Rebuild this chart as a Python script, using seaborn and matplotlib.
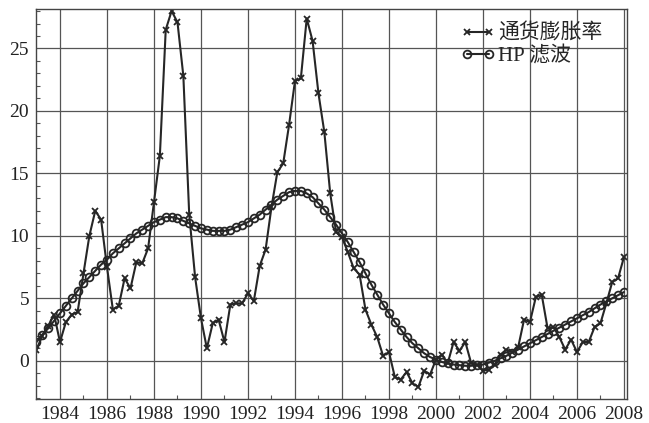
import numpy as np
import pandas as pd
import matplotlib
matplotlib.use("Agg")
import matplotlib.pyplot as plt
from matplotlib.ticker import MultipleLocator, FixedLocator
from matplotlib.lines import Line2D
import seaborn as sns

# ---- data (quarterly, 1983Q1 - 2008Q1) ----
periods = pd.period_range("1983Q1", "2008Q1", freq="Q")
year_pos = periods.year + (periods.quarter - 1) / 4.0

inflation = [
    0.9, 2.0, 2.8, 3.7,      # 1983
    1.5, 3.1, 3.7, 3.9,      # 1984
    7.0, 10.0, 12.0, 11.3,   # 1985
    7.5, 4.1, 4.4, 6.6,      # 1986
    5.8, 7.9, 7.8, 9.0,      # 1987
    12.7, 16.4, 26.5, 28.0,  # 1988
    27.1, 22.8, 11.7, 6.7,   # 1989
    3.4, 1.0, 3.0, 3.3,      # 1990
    1.5, 4.5, 4.6, 4.6,      # 1991
    5.4, 4.8, 7.6, 8.9,      # 1992
    12.3, 15.1, 15.8, 18.9,  # 1993
    22.4, 22.6, 27.4, 25.6,  # 1994
    21.4, 18.3, 13.4, 10.3,  # 1995
    9.9, 8.7, 7.4, 6.9,      # 1996
    4.1, 2.9, 1.9, 0.4,      # 1997
    0.7, -1.3, -1.5, -0.9,   # 1998
    -1.8, -2.1, -0.8, -1.1,  # 1999
    0.1, 0.5, -0.2, 1.5,     # 2000
    0.8, 1.5, -0.2, -0.3,    # 2001
    -0.8, -0.7, -0.3, 0.5,   # 2002
    0.9, 0.7, 1.1, 3.3,      # 2003
    3.1, 5.1, 5.3, 2.6,      # 2004
    2.7, 1.9, 0.9, 1.7,      # 2005
    0.7, 1.5, 1.5, 2.7,      # 2006
    3.0, 4.6, 6.3, 6.6,      # 2007
    8.3,                     # 2008
]

hp_trend = [
    1.5, 2.1, 2.6, 3.2,      # 1983
    3.8, 4.4, 5.0, 5.6,      # 1984
    6.2, 6.7, 7.2, 7.7,      # 1985
    8.1, 8.6, 9.0, 9.4,      # 1986
    9.8, 10.2, 10.5, 10.8,   # 1987
    11.1, 11.3, 11.5, 11.5,  # 1988
    11.4, 11.2, 11.0, 10.8,  # 1989
    10.6, 10.5, 10.4, 10.4,  # 1990
    10.4, 10.5, 10.7, 10.9,  # 1991
    11.1, 11.4, 11.7, 12.1,  # 1992
    12.5, 12.9, 13.2, 13.5,  # 1993
    13.6, 13.6, 13.4, 13.1,  # 1994
    12.6, 12.1, 11.5, 10.9,  # 1995
    10.2, 9.5, 8.7, 7.9,     # 1996
    7.0, 6.1, 5.3, 4.5,      # 1997
    3.8, 3.1, 2.5, 1.9,      # 1998
    1.4, 1.0, 0.6, 0.3,      # 1999
    0.1, -0.1, -0.2, -0.3,   # 2000
    -0.35, -0.4, -0.4, -0.35,  # 2001
    -0.3, -0.15, 0.0, 0.2,   # 2002
    0.4, 0.65, 0.9, 1.15,    # 2003
    1.4, 1.65, 1.9, 2.15,    # 2004
    2.4, 2.65, 2.9, 3.15,    # 2005
    3.4, 3.65, 3.9, 4.2,     # 2006
    4.5, 4.75, 5.0, 5.25,    # 2007
    5.5,                     # 2008
]

series_names = ["通货膨胀率", "HP 滤波"]
x_ticks = list(range(1984, 2009, 2))
y_ticks = [0, 5, 10, 15, 20, 25]

df = pd.DataFrame({"year": year_pos, "infl": inflation, "hp": hp_trend})

# ---- style ----
sns.set_theme(style="white")
plt.rcParams["font.family"] = ["Liberation Serif", "Noto Sans CJK SC", "DejaVu Sans"]

ink = "#262626"
fig = plt.figure(figsize=(6.49, 4.23), dpi=100)
ax = fig.add_axes([0.0555, 0.0567, 0.9106, 0.922])

sns.lineplot(data=df, x="year", y="infl", ax=ax, color=ink, lw=1.5,
             marker="x", markersize=4.5, markeredgewidth=1.3,
             markeredgecolor=ink, label=series_names[0], legend=False)
sns.lineplot(data=df, x="year", y="hp", ax=ax, color=ink, lw=1.5,
             marker="o", markersize=5.6, markeredgewidth=1.3,
             markerfacecolor="none", markeredgecolor=ink,
             label=series_names[1], legend=False)

ax.set_xlim(1982.98, 2008.13)
ax.set_ylim(-3.06, 28.16)
ax.set_xticks(x_ticks)
ax.set_xticklabels([str(t) for t in x_ticks])
ax.set_yticks(y_ticks)
ax.xaxis.set_minor_locator(FixedLocator(list(range(1985, 2008, 2))))
ax.yaxis.set_minor_locator(MultipleLocator(1))
ax.set_xlabel("")
ax.set_ylabel("")

ax.grid(True, which="major", color="#555555", lw=0.9)
ax.tick_params(which="major", direction="in", length=0, labelsize=14,
               colors="#222222", pad=5)
ax.tick_params(which="minor", direction="in", length=3, width=0.8,
               color="#555555", bottom=True, left=True)
for s in ax.spines.values():
    s.set_color("#444444")
    s.set_linewidth(1.0)

handles = [
    Line2D([], [], color=ink, lw=1.5, marker="x", markersize=4.5,
           markeredgewidth=1.3),
    Line2D([], [], color=ink, lw=1.5, marker="o", markersize=5.6,
           markeredgewidth=1.3, markerfacecolor="none"),
]
ax.legend(handles, series_names, loc="upper right",
          bbox_to_anchor=(0.958, 0.962), frameon=False, numpoints=2,
          fontsize=15, handlelength=1.7, handletextpad=0.1,
          labelspacing=0.1, borderpad=0, borderaxespad=0)

fig.savefig("out.png", dpi=100)
